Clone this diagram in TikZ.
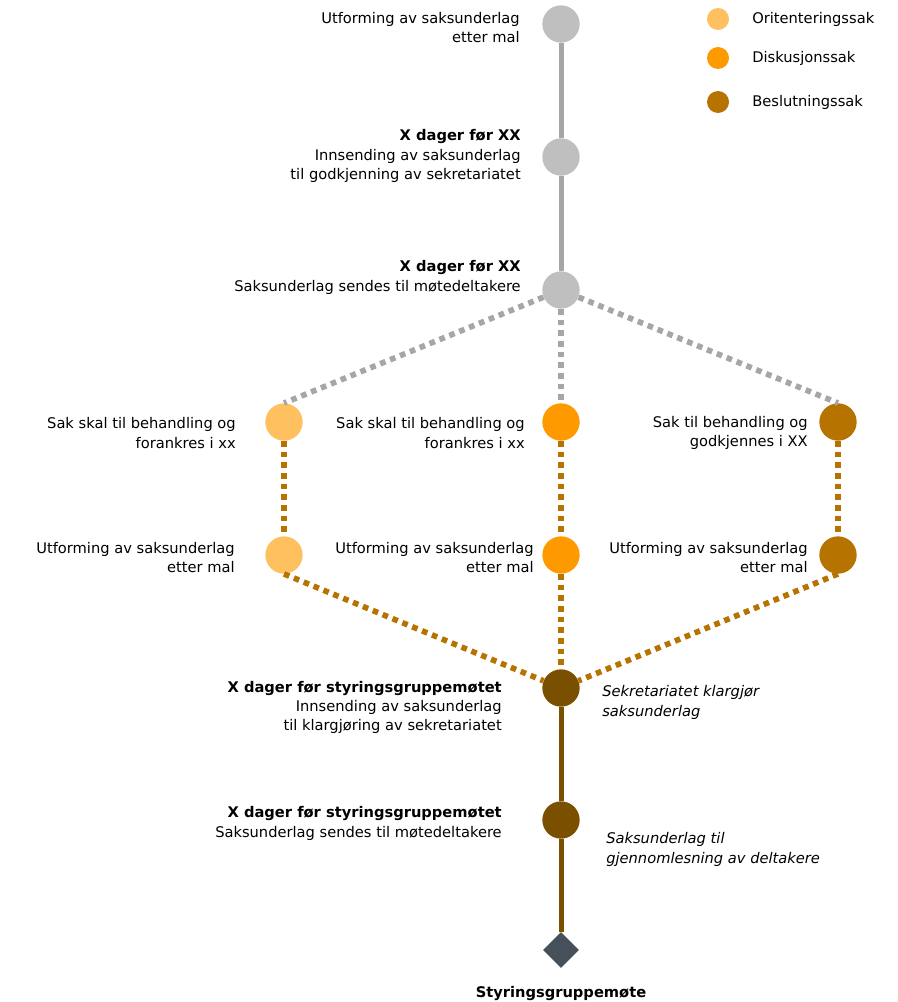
\documentclass[tikz,border=0pt]{standalone}
\usepackage{fontspec}
\setmainfont{DejaVu Sans}
\usetikzlibrary{positioning,shapes.geometric}
\definecolor{DotGray}{RGB}{191,191,191}
\definecolor{LineGray}{RGB}{166,166,166}
\definecolor{LightOrange}{RGB}{255,192,95}
\definecolor{MidOrange}{RGB}{255,153,0}
\definecolor{GoldBrown}{RGB}{182,115,0}
\definecolor{DarkBrown}{RGB}{122,79,0}
\definecolor{Slate}{RGB}{70,80,90}

\begin{document}
\begin{tikzpicture}[
 x=0.75pt, y=-0.75pt,
 dot/.style={circle, minimum size=28pt, inner sep=0pt},
 keydot/.style={circle, minimum size=16.5pt, inner sep=0pt},
 lbl/.style={align=right, anchor=east, inner sep=0pt},
 note/.style={align=left, anchor=west, inner sep=0pt, font=\fontsize{11}{14.5}\selectfont\itshape},
 keylbl/.style={anchor=west, inner sep=0pt},
 grayline/.style={draw=LineGray, line width=3.75pt},
 graydots/.style={draw=LineGray, line width=4.25pt, dash pattern=on 4.25pt off 3.75pt},
 browndots/.style={draw=GoldBrown, line width=4.25pt, dash pattern=on 4.25pt off 3.75pt},
 brownline/.style={draw=DarkBrown, line width=3.75pt},
 font=\fontsize{11}{14.5}\selectfont
]
\useasboundingbox (0,0) rectangle (897,1002);

% legend
\node[keydot, fill=LightOrange] (k1) at (718,19) {};
\node[keydot, fill=MidOrange] (k2) at (718,58) {};
\node[keydot, fill=GoldBrown] (k3) at (718,102) {};
\node[keylbl] at (752,19) {Oritenteringssak};
\node[keylbl] at (752,58) {Diskusjonssak};
\node[keylbl] at (752,102) {Beslutningssak};

% preparation steps
\node[dot, fill=DotGray] (s1) at (561,24) {};
\node[dot, fill=DotGray] (s2) at (561,157) {};
\node[dot, fill=DotGray] (s3) at (561,290) {};
\node[lbl] at (520,27.5) {Utforming av saksunderlag\\etter mal};
\node[lbl] at (521,156) {\textbf{X dager før XX}\\Innsending av saksunderlag\\til godkjenning av sekretariatet};
\node[lbl] at (521,277.5) {\textbf{X dager før XX}\\Saksunderlag sendes til møtedeltakere};

% three kinds of cases
\node[dot, fill=LightOrange] (o1) at (284,422) {};
\node[dot, fill=LightOrange] (o2) at (284,555) {};
\node[dot, fill=MidOrange] (d1) at (561,422) {};
\node[dot, fill=MidOrange] (d2) at (561,555) {};
\node[dot, fill=GoldBrown] (b1) at (838,422) {};
\node[dot, fill=GoldBrown] (b2) at (838,555) {};
\node[lbl] at (236,433) {Sak skal til behandling og\\forankres i xx};
\node[lbl] at (525,433) {Sak skal til behandling og\\forankres i xx};
\node[lbl] at (808,433) {Sak til behandling og\\godkjennes i XX};
\node[lbl] at (235,557.5) {Utforming av saksunderlag\\etter mal};
\node[lbl] at (534,557.5) {Utforming av saksunderlag\\etter mal};
\node[lbl] at (808,557.5) {Utforming av saksunderlag\\etter mal};

% towards the meeting
\node[dot, fill=DarkBrown] (m1) at (561,688) {};
\node[dot, fill=DarkBrown] (m2) at (561,820) {};
\node[diamond, fill=Slate, minimum size=27pt, inner sep=0pt] (mt) at (561,950) {};
\node[lbl] at (502,707.5) {\textbf{X dager før styringsgruppemøtet}\\Innsending av saksunderlag\\til klargjøring av sekretariatet};
\node[lbl] at (502,823.5) {\textbf{X dager før styringsgruppemøtet}\\Saksunderlag sendes til møtedeltakere};
\node[note] at (602,702.5) {Sekretariatet klargjør\\saksunderlag};
\node[note] at (606,849.5) {Saksunderlag til\\gjennomlesning av deltakere};
\node[font=\fontsize{11}{14.5}\selectfont\bfseries] (mtl) at (561,993) {Styringsgruppemøte};

\draw[grayline] (s1) -- (s2);
\draw[grayline] (s2) -- (s3);
\draw[graydots] (s3) -- (o1.north);
\draw[graydots] (s3) -- (d1);
\draw[graydots] (s3) -- (b1.north);
\draw[browndots] (o1) -- (o2);
\draw[browndots] (d1) -- (d2);
\draw[browndots] (b1) -- (b2);
\draw[browndots] (o2.south) -- (m1);
\draw[browndots] (d2) -- (m1);
\draw[browndots] (b2.south) -- (m1);
\draw[brownline] (m1) -- (m2);
\draw[brownline] (m2) -- (mt);
\end{tikzpicture}
\end{document}
